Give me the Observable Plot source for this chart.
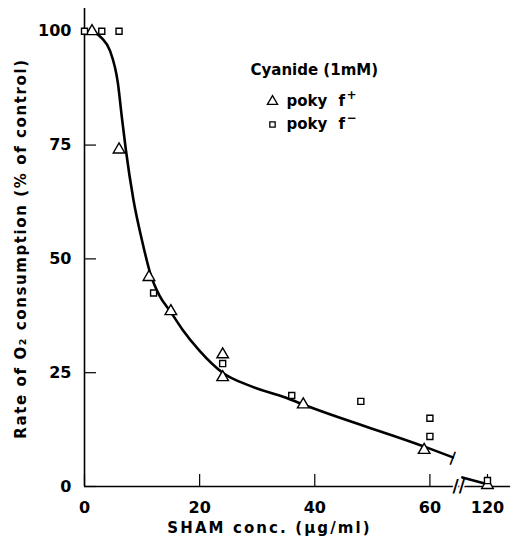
<!DOCTYPE html>
<html><head><meta charset="utf-8">
<script src="https://cdn.jsdelivr.net/npm/d3@7"></script>
<script src="https://cdn.jsdelivr.net/npm/@observablehq/plot@0.6"></script>
<style>
body{margin:0;background:#fff;}
#chart{position:relative;width:510px;height:540px;}
</style>
</head><body>
<div id="chart"></div>
<script>
// Data
const triX = [1.3, 6, 11.2, 15, 24, 24, 38, 59, 120];   // poky f+ (triangles)
const triY = [100, 74, 46, 38.5, 29, 24, 18, 8, 0.3];
const sqX  = [0, 3, 6, 12, 24, 36, 48, 60, 60, 120];    // poky f- (squares)
const sqY  = [100, 100, 100, 42.5, 27, 20, 18.7, 15, 11, 1.3];
const curveX = [1.5, 3, 4.4, 5.8, 6.5, 7.2, 8.5, 10, 11.5, 13, 15, 17, 20, 24, 29, 35, 38, 59.4, 64];
const curveY = [100, 98.5, 95.8, 88.6, 81, 73.8, 63, 54, 46.5, 42, 38.3, 34.5, 29.8, 25, 22, 19.5, 18, 8.6, 6.4];
const tailX = [72, 120];
const tailY = [2, 0.5];
const xTicks = [0, 20, 40, 60, 120];
const yTicks = [0, 25, 50, 75, 100];
const breakAt = 65;
const yTitle = "Rate of O\u2082 consumption (% of control)";
const xTitle = "SHAM conc. (\u03bcg/ml)";

// broken x axis: values above the break are compressed
const brk = x => x <= breakAt ? x : breakAt + (x - breakAt) * 5 / 55;

const tri = triX.map((x, i) => ({x: brk(x), y: triY[i]}));
const sq = sqX.map((x, i) => ({x: brk(x), y: sqY[i]}));
const curve = curveX.map((x, i) => ({x: brk(x), y: curveY[i]}));
const tail = tailX.map((x, i) => ({x: brk(x), y: tailY[i]}));

const font = "DejaVu Sans, sans-serif";
const leg = {frameAnchor: "top-left", textAnchor: "start", lineAnchor: "middle", fontWeight: "bold"};

const plot = Plot.plot({
  width: 510, height: 540,
  marginLeft: 84, marginRight: 0, marginTop: 8, marginBottom: 54,
  style: {fontFamily: font, background: "white", color: "black"},
  x: {domain: [0, 74]},
  y: {domain: [0, 105]},
  marks: [
    Plot.ruleX([0], {strokeWidth: 1.6}),
    Plot.ruleY([0], {strokeWidth: 1.6}),
    Plot.axisY(yTicks, {tickSize: -12, tickPadding: 25, fontSize: 16, fontWeight: "bold", label: null, strokeWidth: 1.2}),
    Plot.axisX(xTicks.map(brk), {tickSize: -12, tickPadding: 27, fontSize: 16, fontWeight: "bold", label: null, strokeWidth: 1.2,
      tickFormat: d => xTicks[xTicks.map(brk).indexOf(d)]}),
    Plot.text([breakAt], {x: d => d, y: 0, text: () => "//", fontSize: 17, fontWeight: "bold", stroke: "white", strokeWidth: 3, fill: "black"}),
    Plot.line(curve, {x: "x", y: "y", curve: "monotone-x", strokeWidth: 2.6}),
    Plot.line(tail, {x: "x", y: "y", strokeWidth: 2.6}),
    Plot.text([curve[curve.length - 1]], {x: "x", y: "y", text: () => "|", rotate: 21, fontSize: 14, fontWeight: "bold"}),
    Plot.dot(tri, {x: "x", y: "y", symbol: "triangle", r: 4.3, stroke: "black", strokeWidth: 1.4, fill: "white"}),
    Plot.dot(sq, {x: "x", y: "y", symbol: "square", r: 3.4, stroke: "black", strokeWidth: 1.4, fill: "white"}),
    // axis titles
    Plot.text([yTitle], {frameAnchor: "left", textAnchor: "middle", lineAnchor: "middle", dx: -63, dy: 1, rotate: -90, fontSize: 15, fontWeight: "bold"}),
    Plot.text([xTitle], {frameAnchor: "bottom", textAnchor: "middle", lineAnchor: "middle", dx: -28, dy: 42, fontSize: 15, fontWeight: "bold"}),
    // legend
    Plot.text(["Cyanide (1mM)"], {...leg, dx: 250 - 84, dy: 70 - 8, fontSize: 15}),
    Plot.dot([0], {frameAnchor: "top-left", dx: 272 - 84, dy: 101 - 8, symbol: "triangle", r: 3.8, stroke: "black", strokeWidth: 1.3, fill: "white"}),
    Plot.dot([0], {frameAnchor: "top-left", dx: 272 - 84, dy: 124 - 8, symbol: "square", r: 3, stroke: "black", strokeWidth: 1.3, fill: "white"}),
    Plot.text(["poky"], {...leg, dx: 286 - 84, dy: 101 - 8, fontSize: 15}),
    Plot.text(["poky"], {...leg, dx: 286 - 84, dy: 124 - 8, fontSize: 15}),
    Plot.text(["f"], {...leg, dx: 338 - 84, dy: 101 - 8, fontSize: 15}),
    Plot.text(["f"], {...leg, dx: 338 - 84, dy: 124 - 8, fontSize: 15}),
    Plot.text(["+"], {...leg, dx: 346 - 84, dy: 95 - 8, fontSize: 12}),
    Plot.text(["\u2212"], {...leg, dx: 346 - 84, dy: 118 - 8, fontSize: 12})
  ]
});
d3.select(plot).selectAll("text").each(function() {
  const t = this.textContent;
  if (t === yTitle) this.style.letterSpacing = "1.6px";
  if (t === xTitle) this.style.letterSpacing = "2.1px";
});
document.getElementById("chart").appendChild(plot);
</script>
</body></html>
